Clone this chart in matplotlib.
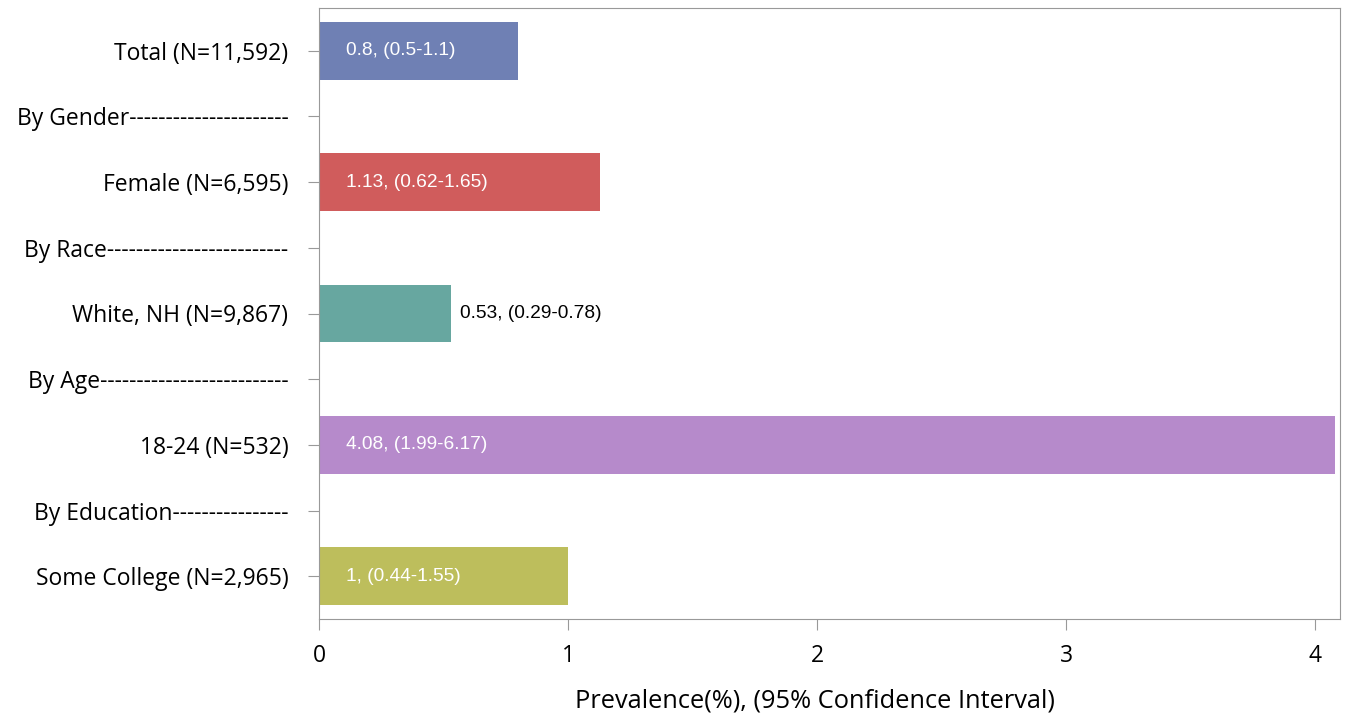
import matplotlib
matplotlib.use("Agg")
import matplotlib.pyplot as plt
import numpy as np

categories = ["Total (N=11,592)", "By Gender----------------------", "Female (N=6,595)",
              "By Race-------------------------", "White, NH (N=9,867)", "By Age--------------------------",
              "18-24 (N=532)", "By Education----------------", "Some College (N=2,965)"]
values = [0.8, None, 1.13, None, 0.53, None, 4.08, None, 1.0]
bar_labels = ["0.8, (0.5-1.1)", "", "1.13, (0.62-1.65)", "", "0.53, (0.29-0.78)", "",
              "4.08, (1.99-6.17)", "", "1, (0.44-1.55)"]
colors = ["#6f80b4", None, "#d05c5c", None, "#67a7a0", None, "#b68acb", None, "#bdbe5c"]
xticks = [0, 1, 2, 3, 4]

fig = plt.figure(figsize=(13.45, 7.15), dpi=100)
ax = fig.add_axes([319/1345, 1 - 619/715, (1340-319)/1345, (619-8)/715])

y = np.arange(len(categories))
for i, (v, c, lab) in enumerate(zip(values, colors, bar_labels)):
    if v is None:
        continue
    ax.barh(i, v, height=0.88, color=c, edgecolor="none")
    if v > 0.7:
        ax.text(0.11, i, lab, color="white", va="center", ha="left",
                fontsize=13.8, family="Liberation Sans")
    else:
        ax.text(v + 0.035, i, lab, color="black", va="center", ha="left",
                fontsize=13.8, family="Liberation Sans")

ax.set_ylim(len(categories) - 1 + 0.65, -0.65)
ax.set_xlim(0, 4.1)
ax.set_yticks(y)
ax.set_yticklabels(categories, fontsize=16.5, family="Open Sans")
ax.set_xticks(xticks)
ax.set_xticklabels([str(t) for t in xticks], fontsize=16.5, family="Open Sans")
ax.set_xlabel("Prevalence(%), (95% Confidence Interval)", fontsize=18.3, family="Open Sans")
ax.xaxis.set_label_coords(0.486, -0.113)
ax.xaxis.label.set_va("top")
for s in ax.spines.values():
    s.set_color("#999999")
ax.tick_params(axis="y", length=8, color="#999999", pad=14)
ax.tick_params(axis="x", length=8, color="#999999", pad=10)

fig.savefig("out.png", dpi=100)
